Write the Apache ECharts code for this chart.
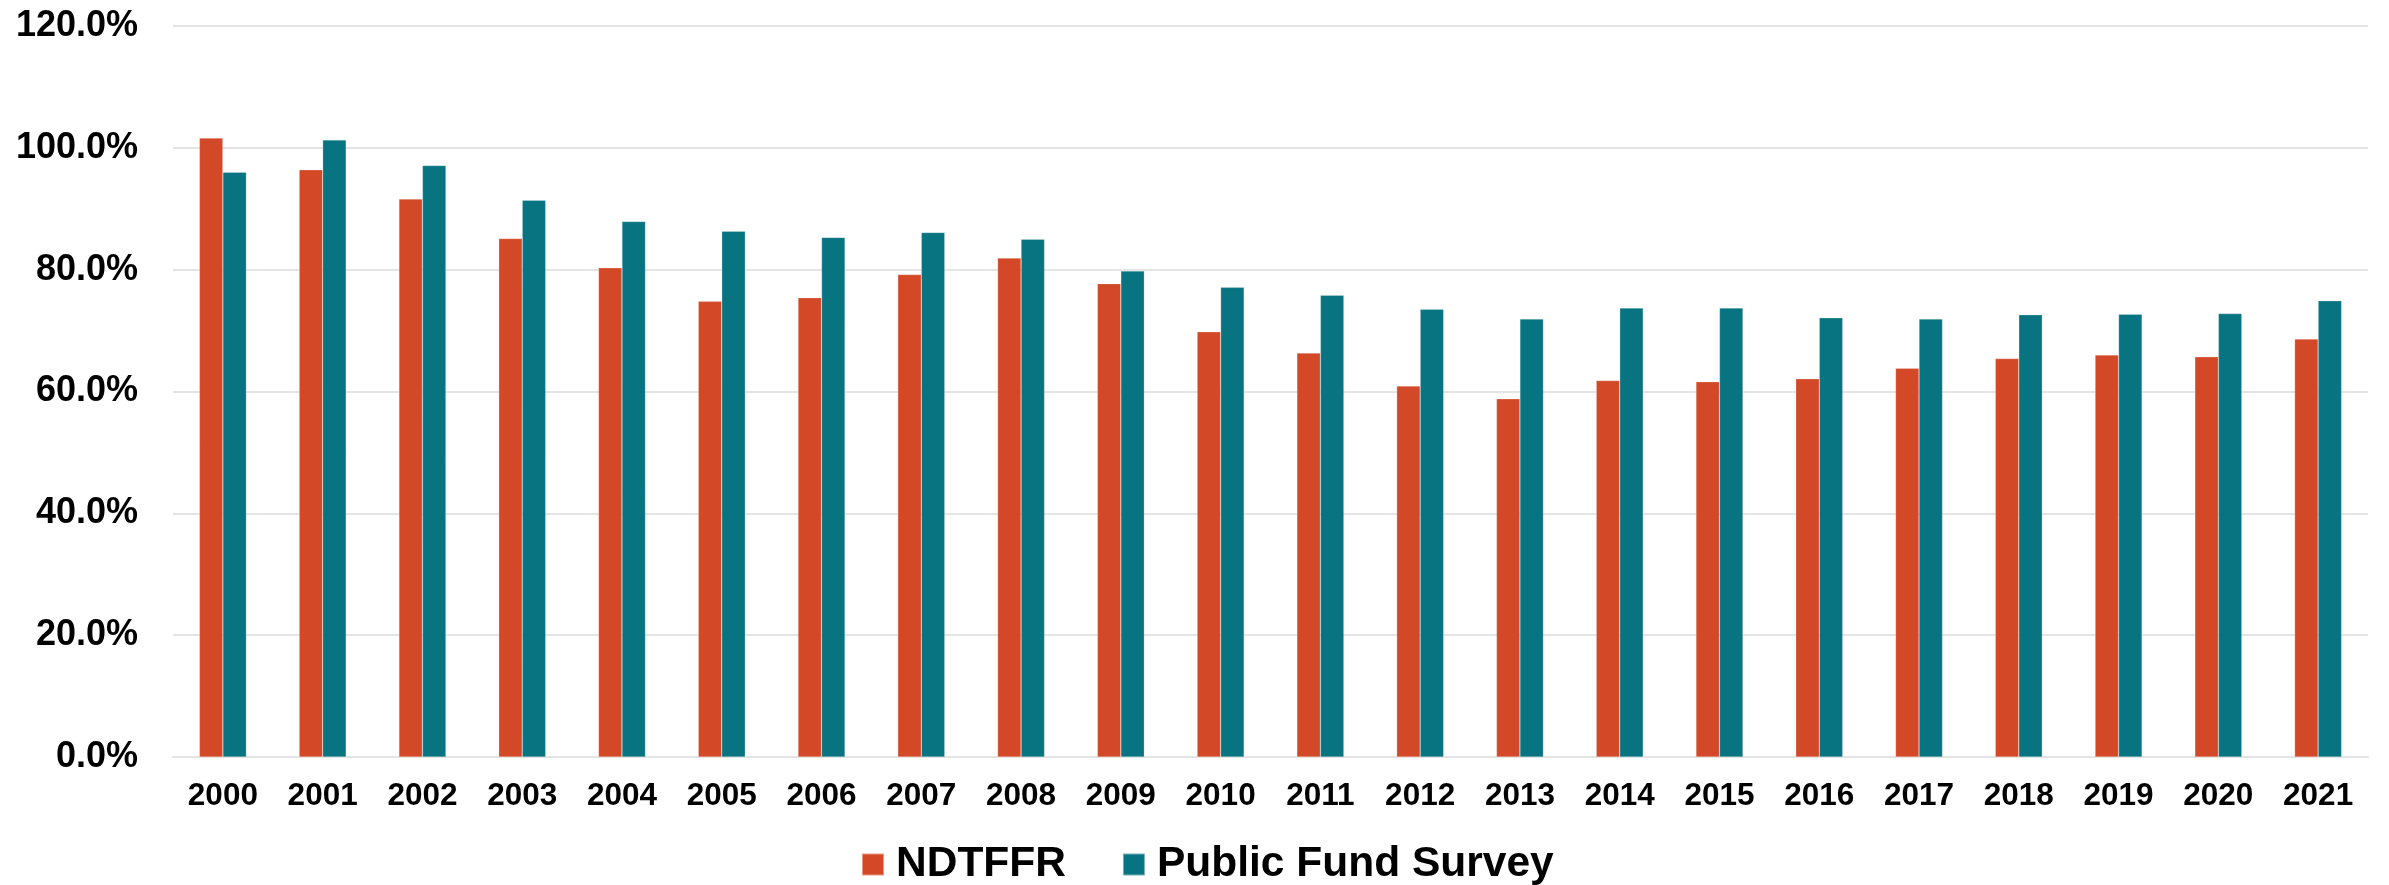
<!DOCTYPE html>
<html>
<head>
<meta charset="utf-8">
<script src="https://cdn.jsdelivr.net/npm/echarts@6/dist/echarts.min.js"></script>
<style>
  html, body { margin: 0; padding: 0; background: #ffffff; }
  #chart { width: 2389px; height: 885px; }
</style>
</head>
<body>
<div id="chart"></div>
<script>
// Funded ratios by fiscal year (percent)
const years = ['2000','2001','2002','2003','2004','2005','2006','2007','2008','2009','2010',
               '2011','2012','2013','2014','2015','2016','2017','2018','2019','2020','2021'];
const ndtffr = [101.6, 96.4, 91.6, 85.1, 80.3, 74.8, 75.4, 79.2, 81.9, 77.7, 69.8,
                66.3, 60.9, 58.8, 61.8, 61.6, 62.1, 63.8, 65.4, 66.0, 65.7, 68.6];
const publicFundSurvey = [96.0, 101.3, 97.1, 91.4, 87.9, 86.3, 85.3, 86.1, 85.0, 79.8, 77.1,
                          75.8, 73.5, 71.9, 73.7, 73.7, 72.1, 71.9, 72.6, 72.7, 72.8, 74.9];
const seriesNames = ['NDTFFR', 'Public Fund Survey'];
const colors = ['#D34827', '#097481'];

const chart = echarts.init(document.getElementById('chart'), null, { renderer: 'canvas' });
const font = '"Liberation Sans", Arial, sans-serif';

chart.setOption({
  animation: false,
  backgroundColor: '#ffffff',
  color: colors,
  grid: { left: 173, right: 21, top: 26, bottom: 128, containLabel: false },
  legend: {
    data: seriesNames,
    top: 838,
    left: 856,
    itemWidth: 22,
    itemHeight: 22,
    itemGap: 56,
    icon: 'rect',
    textStyle: { fontFamily: font, fontWeight: 'bold', fontSize: 42.5, color: '#000000', padding: [0, 0, 0, 7] }
  },
  xAxis: {
    type: 'category',
    data: years,
    axisLine: { show: true, lineStyle: { color: '#e4e4e4', width: 2 } },
    axisTick: { show: false },
    axisLabel: { fontFamily: font, fontWeight: 'bold', fontSize: 31.5, color: '#000000', margin: 23, interval: 0 }
  },
  yAxis: {
    type: 'value',
    min: 0,
    max: 120,
    interval: 20,
    axisLine: { show: false },
    axisTick: { show: false },
    splitLine: { lineStyle: { color: '#e4e4e4', width: 2 } },
    axisLabel: {
      fontFamily: font, fontWeight: 'bold', fontSize: 36, color: '#000000', margin: 35,
      formatter: v => v.toFixed(1) + '%'
    }
  },
  series: [
    {
      name: seriesNames[0], type: 'bar', data: ndtffr,
      barWidth: 23.5, barGap: '0%',
      itemStyle: { color: colors[0], borderColor: 'rgba(255,255,255,0.45)', borderWidth: 0.5 }
    },
    {
      name: seriesNames[1], type: 'bar', data: publicFundSurvey,
      barWidth: 23.5, barGap: '0%',
      itemStyle: { color: colors[1], borderColor: 'rgba(255,255,255,0.45)', borderWidth: 0.5 }
    }
  ]
});
</script>
</body>
</html>
